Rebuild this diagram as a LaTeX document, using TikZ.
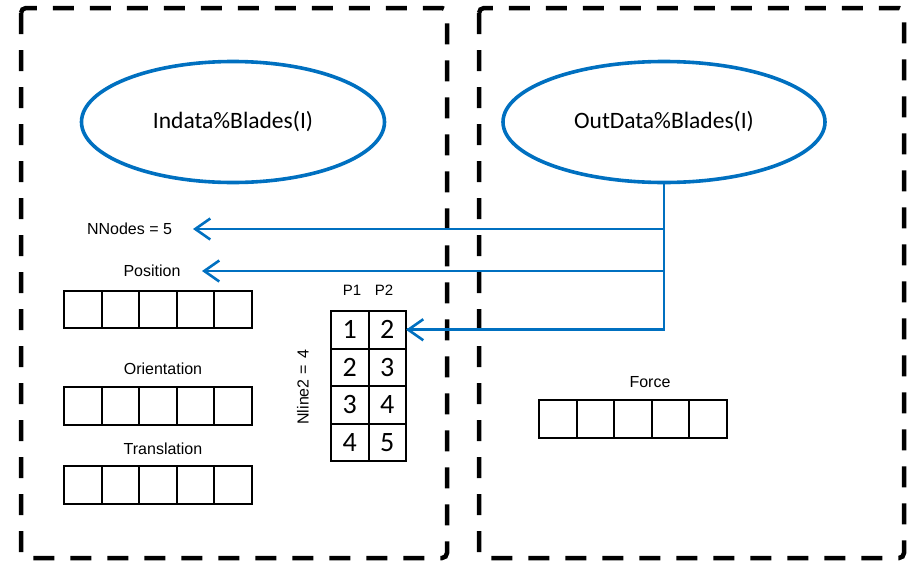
\documentclass[tikz,border=0pt]{standalone}
\usepackage{fontspec}
\setmainfont{Liberation Sans}
\newfontfamily\calfont{Carlito}
\usetikzlibrary{shapes.geometric,arrows.meta}
\definecolor{bblue}{RGB}{0,112,192}
\tikzset{
  dbox/.style={draw=black, line width=4.5pt, dash pattern=on 21pt off 16pt, rounded corners=5pt},
  oval/.style={ellipse, draw=bblue, line width=3.6pt, minimum height=121pt, inner sep=0pt, font=\calfont\fontsize{23.5}{28}\selectfont},
  cell/.style={draw=black, line width=2pt, minimum width=37.6pt, minimum height=37.5pt, inner sep=0pt, outer sep=0pt},
  tcell/.style={cell, minimum width=37.5pt, minimum height=37.5pt, font=\calfont\fontsize{28}{32}\selectfont},
  lbl/.style={font=\fontsize{16}{19}\selectfont, inner sep=0pt},
  plbl/.style={font=\fontsize{15}{18}\selectfont, inner sep=0pt},
  bline/.style={draw=bblue, line width=2.8pt},
  barrow/.style={bline, -{Straight Barb[length=15pt,width=21pt,line width=2.6pt]}},
}
\begin{document}
\begin{tikzpicture}[x=1pt,y=-1pt]
\useasboundingbox (0,0) rectangle (913,565);
% dashed containers
\draw[dbox] (21,8) rectangle (447,558);
\draw[dbox] (479,8) rectangle (904,558);
% ellipses
\node[oval, minimum width=303pt] (inE) at (233,122) {Indata\%Blades(I)};
\node[oval, minimum width=322pt] (outE) at (664,122) {OutData\%Blades(I)};
% labels
\node[lbl] (nnodes) at (129.5,229) {NNodes = 5};
\node[lbl] (poslbl) at (152,271) {Position};
\node[lbl] (orilbl) at (163,369) {Orientation};
\node[lbl] (trlbl) at (163,449) {Translation};
\node[lbl] (forcelbl) at (650,382) {Force};
\node[plbl] (p1) at (352,290) {P1};
\node[plbl] (p2) at (384,290) {P2};
\node[lbl, rotate=90] (nline) at (303,387) {Nline2 =\hspace{0.45em}4};
% arrays
\foreach \i in {1,...,5} {
  \node[cell] (pos\i) at ({64+18.8+37.6*(\i-1)},309.5) {};
  \node[cell] (ori\i) at ({64+18.8+37.6*(\i-1)},406) {};
  \node[cell] (tr\i) at ({64+18.8+37.6*(\i-1)},485) {};
  \node[cell] (fo\i) at ({539+18.8+37.6*(\i-1)},419) {};
}
% node table
\foreach \r/\a/\b in {1/1/2,2/2/3,3/3/4,4/4/5} {
  \node[tcell] (t\r1) at (349.75,{311+18.75+37.5*(\r-1)}) {\a};
  \node[tcell] (t\r2) at (387.25,{311+18.75+37.5*(\r-1)}) {\b};
}
% connectors
\coordinate (nnTip) at (193,229);
\coordinate (posTip) at (202,271);
\coordinate (j1) at (outE.south |- nnTip);
\coordinate (j2) at (outE.south |- posTip);
\draw[bline] (outE.south) -- (outE.south |- t12.east) -- ([xshift=1pt]t12.east);
\draw[barrow] (outE.south |- t12.east) -- (t12.east);
\draw[barrow] (j1) -- (nnTip);
\draw[barrow] (j2) -- (posTip);
\end{tikzpicture}
\end{document}
